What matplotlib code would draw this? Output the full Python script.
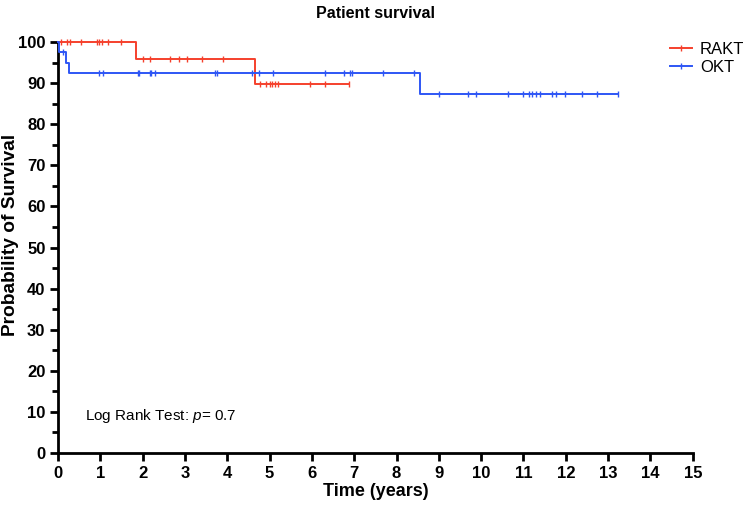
import matplotlib.pyplot as plt
import numpy as np

plt.rcParams['font.family'] = ['Liberation Sans', 'DejaVu Sans']
plt.rcParams['mathtext.fontset'] = 'custom'
plt.rcParams['mathtext.it'] = 'Liberation Sans:italic'
plt.rcParams['mathtext.rm'] = 'Liberation Sans'

# step curves: time of each step and survival level (%) from that time on
rakt_t = [0, 1.85, 4.65, 6.88]
rakt_s = [100, 95.8, 89.9, 89.9]
rakt_cens = [0.06, 0.22, 0.28, 0.55, 0.92, 0.98, 1.05, 1.18, 1.5,
             2.01, 2.17, 2.64, 2.85, 3.06, 3.40, 3.90,
             4.77, 4.92, 5.0, 5.05, 5.12, 5.2, 5.95, 6.32, 6.88]

okt_t = [0, 0.02, 0.2, 0.25, 8.55, 13.24]
okt_s = [100, 97.5, 95.0, 92.5, 87.4, 87.4]
okt_cens = [0.11, 0.96, 1.07, 1.88, 1.91, 2.17, 2.21, 2.30, 3.72, 3.76,
            4.59, 4.74, 5.08, 6.32, 6.77, 6.91, 6.95, 7.67, 8.42,
            9.0, 9.7, 9.88, 10.64, 10.98, 11.14, 11.2, 11.3, 11.4,
            11.67, 11.78, 11.98, 12.38, 12.73, 13.24]

RED = '#F5402C'
BLUE = '#2E56F5'


def level_at(t, s, x):
    idx = np.searchsorted(t, x, side='right') - 1
    return np.array(s)[idx]


fig = plt.figure(figsize=(7.49, 5.07), dpi=100)
ax = fig.add_axes([0.0774, 0.1065, 0.8475, 0.8105])

for t, s, cens, col, name in [(rakt_t, rakt_s, rakt_cens, RED, 'RAKT'),
                              (okt_t, okt_s, okt_cens, BLUE, 'OKT')]:
    ax.step(t, s, where='post', color=col, lw=1.4, clip_on=False, zorder=3)
    ax.plot(cens, level_at(t, s, cens), ls='none', marker='|', ms=5,
            mew=1.0, color=col, clip_on=False, zorder=3)
    ax.plot([], [], color=col, lw=1.4, marker='|', ms=5, mew=1.0, label=name)

ax.set_xlim(0, 15)
ax.set_ylim(0, 100)
ax.set_xticks(range(0, 16))
ax.set_yticks(range(0, 101, 10))
ax.set_yticks(range(5, 100, 10), minor=True)
for sp in ['top', 'right']:
    ax.spines[sp].set_visible(False)
for sp in ['left', 'bottom']:
    ax.spines[sp].set_linewidth(2)
ax.tick_params(axis='both', which='major', length=6, width=2, labelsize=12, pad=3)
ax.tick_params(axis='y', which='minor', length=4, width=2)
for lab in ax.get_xticklabels() + ax.get_yticklabels():
    lab.set_fontweight('bold')

ax.set_xlabel('Time (years)', fontsize=13, fontweight='bold', labelpad=2)
ax.set_ylabel('Probability of Survival', fontsize=13.8, fontweight='bold')
ax.yaxis.set_label_coords(-0.061, 0.53)
ax.set_title('Patient survival', fontsize=11.5, fontweight='bold', pad=17)

ax.text(0.65, 9.0, 'Log Rank Test: $\\it{p}$= 0.7', fontsize=11, va='center')

fig.legend(loc='upper left', bbox_to_anchor=(670 / 749, 1 - 42 / 507),
           frameon=False, fontsize=12, handlelength=1.3, handletextpad=0.5,
           labelspacing=0.2, borderaxespad=0, borderpad=0)

fig.savefig('out.png', dpi=100)
